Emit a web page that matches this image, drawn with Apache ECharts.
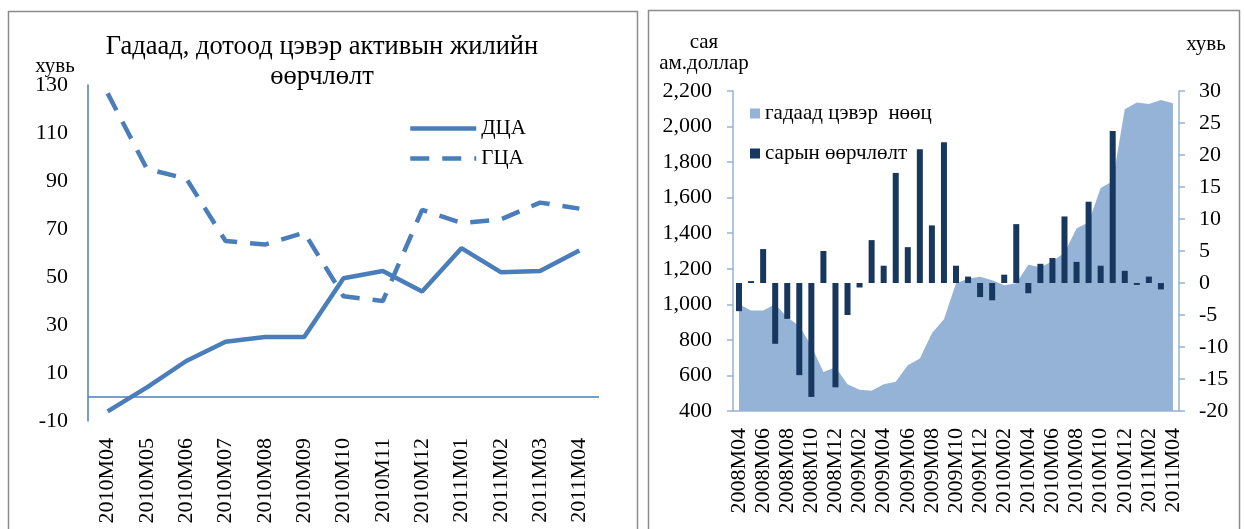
<!DOCTYPE html>
<html><head><meta charset="utf-8">
<script src="https://cdn.jsdelivr.net/npm/echarts@6/dist/echarts.min.js"></script>
<style>html,body{margin:0;padding:0;background:#fff}#c{width:1244px;height:529px}</style>
</head><body><div id="c"></div>
<script>
const leftCategories = ['2010M04','2010M05','2010M06','2010M07','2010M08','2010M09','2010M10','2010M11','2010M12','2011M01','2011M02','2011M03','2011M04'];
const dcaValues = [-6, 4, 15, 23, 25, 25, 49.5, 52.5, 44, 62, 52, 52.5, 61];
const gcaValues = [126.5, 95, 91, 65, 63.5, 68.5, 42, 40, 78, 72.5, 74, 81, 78.5];
const leftTicks = {min: -10, max: 130, interval: 20};

const rightCategories = ['2008M04','2008M05','2008M06','2008M07','2008M08','2008M09','2008M10','2008M11','2008M12',
  '2009M01','2009M02','2009M03','2009M04','2009M05','2009M06','2009M07','2009M08','2009M09','2009M10','2009M11','2009M12',
  '2010M01','2010M02','2010M03','2010M04','2010M05','2010M06','2010M07','2010M08','2010M09','2010M10','2010M11','2010M12',
  '2011M01','2011M02','2011M03','2011M04'];
const reserveValues = [1000, 966, 966, 1000, 927, 878, 766, 620, 646, 551, 520, 514, 551, 564, 658, 695, 837, 916, 1118, 1144, 1155, 1135, 1107, 1118, 1222, 1209, 1243, 1290, 1426, 1462, 1654, 1692, 2097, 2135, 2127, 2150, 2131];
const changeValues = [-4.4, 0.3, 5.3, -9.5, -5.6, -14.4, -17.8, 5.0, -16.3, -5.0, -0.7, 6.7, 2.7, 17.2, 5.6, 20.9, 9.0, 22.0, 2.7, 1.0, -2.2, -2.7, 1.3, 9.2, -1.6, 3.0, 3.9, 10.4, 3.3, 12.7, 2.7, 23.75, 1.9, -0.3, 1.0, -1.0, null];
const reserveTicks = {min: 400, max: 2200, interval: 200};
const changeTicks = {min: -20, max: 30, interval: 5};

const FONT = 'Liberation Serif';
const BLUE = '#4a7ebb';
const LIGHT = '#95b3d7';
const NAVY = '#17375e';

const chart = echarts.init(document.getElementById('c'));
const lbl = (o) => Object.assign({color: '#000', fontFamily: FONT, fontSize: 22}, o);
const txt = (x, y, text, size) => ({type: 'text', x: x, y: y, silent: true,
  style: {text: text, fill: '#000', font: size + 'px "Liberation Serif"', textAlign: 'center', textVerticalAlign: 'middle'}});

chart.setOption({
  animation: false,
  backgroundColor: '#fff',
  textStyle: {fontFamily: FONT},
  graphic: [
    {type: 'rect', shape: {x: 8.5, y: 11.5, width: 629, height: 530}, style: {fill: 'none', stroke: '#8c8c8c', lineWidth: 1.5}, silent: true},
    {type: 'rect', shape: {x: 648.5, y: 10.5, width: 591, height: 530}, style: {fill: 'none', stroke: '#8c8c8c', lineWidth: 1.5}, silent: true},
    txt(322, 47, 'Гадаад, дотоод цэвэр активын жилийн', 26.5),
    txt(322, 77, 'өөрчлөлт', 26.5),
    txt(55, 66, 'хувь', 21),
    txt(704, 42, 'сая', 21),
    txt(704, 63, 'ам.доллар', 21),
    txt(1206, 44, 'хувь', 21)
  ],
  legend: [
    {data: ['ДЦА', 'ГЦА'], left: 408, top: 118, padding: 0, orient: 'vertical', itemWidth: 66, itemHeight: 1, itemGap: 9,
     lineStyle: {width: 4.5}, textStyle: lbl({fontSize: 21}), selectedMode: false},
    {data: ['гадаад цэвэр  нөөц', 'сарын өөрчлөлт'], left: 750, top: 103, padding: 0, orient: 'vertical', icon: 'rect', itemWidth: 10, itemHeight: 10, itemGap: 19,
     textStyle: lbl({fontSize: 21}), selectedMode: false}
  ],
  grid: [
    {left: 88, top: 85, width: 511, height: 336},
    {left: 733, top: 91, width: 446, height: 320}
  ],
  xAxis: [
    {gridIndex: 0, type: 'category', data: leftCategories, boundaryGap: true,
     axisLine: {show: false, onZero: false}, axisTick: {show: false},
     axisLabel: lbl({rotate: 90, interval: 0, margin: 17})},
    {gridIndex: 1, type: 'category', data: rightCategories, boundaryGap: true,
     axisLine: {show: true, onZero: false, lineStyle: {color: LIGHT, width: 1.5}}, axisTick: {show: false},
     axisLabel: lbl({rotate: 90, interval: 1, margin: 17})}
  ],
  yAxis: [
    {gridIndex: 0, type: 'value', min: leftTicks.min, max: leftTicks.max, interval: leftTicks.interval,
     axisLine: {show: true, lineStyle: {color: BLUE, width: 1.5}}, axisTick: {show: false}, splitLine: {show: false},
     axisLabel: lbl({margin: 20})},
    {gridIndex: 1, type: 'value', position: 'left', min: reserveTicks.min, max: reserveTicks.max, interval: reserveTicks.interval,
     axisLine: {show: true, lineStyle: {color: LIGHT, width: 1.5}}, axisTick: {show: true, length: 6, lineStyle: {color: LIGHT, width: 1.5}},
     splitLine: {show: false},
     axisLabel: lbl({margin: 21, formatter: v => v.toLocaleString('en-US')})},
    {gridIndex: 1, type: 'value', position: 'right', min: changeTicks.min, max: changeTicks.max, interval: changeTicks.interval,
     axisLine: {show: true, lineStyle: {color: LIGHT, width: 1.5}}, axisTick: {show: true, length: 6, lineStyle: {color: LIGHT, width: 1.5}},
     splitLine: {show: false},
     axisLabel: lbl({margin: 20})}
  ],
  series: [
    {name: 'ДЦА', type: 'line', xAxisIndex: 0, yAxisIndex: 0, data: dcaValues, symbol: 'none', color: BLUE,
     lineStyle: {color: BLUE, width: 4.5}, z: 3,
     markLine: {silent: true, symbol: 'none', label: {show: false}, lineStyle: {color: BLUE, width: 1.5, type: 'solid'},
                data: [{yAxis: 0}], animation: false}},
    {name: 'ГЦА', type: 'line', xAxisIndex: 0, yAxisIndex: 0, data: gcaValues, symbol: 'none', color: BLUE,
     lineStyle: {color: BLUE, width: 4.5, type: [19, 13]}, z: 3},
    {name: 'гадаад цэвэр  нөөц', type: 'line', xAxisIndex: 1, yAxisIndex: 1, data: reserveValues, symbol: 'none', color: LIGHT,
     lineStyle: {width: 0}, areaStyle: {color: LIGHT, opacity: 1, origin: 'start'}, z: 1},
    {name: 'сарын өөрчлөлт', type: 'bar', xAxisIndex: 1, yAxisIndex: 2, data: changeValues, barWidth: 6, color: NAVY,
     itemStyle: {color: NAVY}, z: 2}
  ]
});
</script>
</body></html>
